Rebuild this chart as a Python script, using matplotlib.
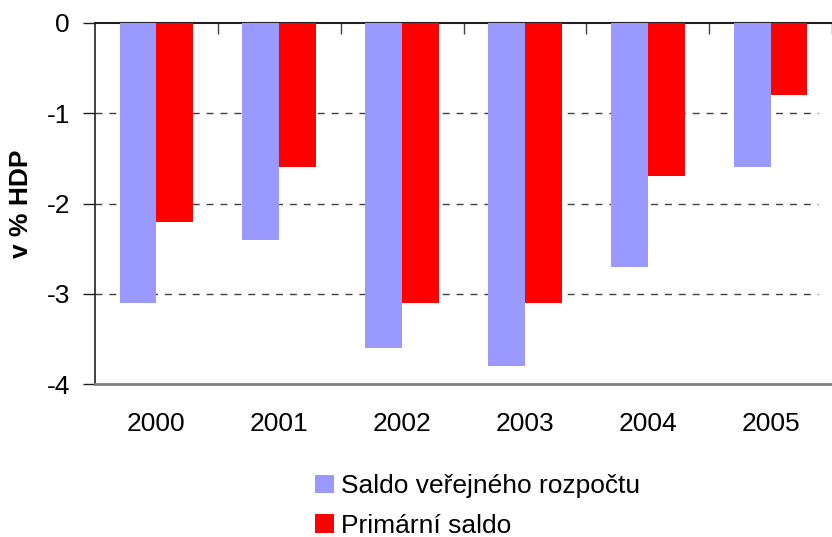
import matplotlib
matplotlib.use("Agg")
import matplotlib.pyplot as plt
from matplotlib.patches import Patch
import numpy as np

years = ["2000", "2001", "2002", "2003", "2004", "2005"]
saldo_verejneho = [-3.1, -2.4, -3.6, -3.8, -2.7, -1.6]
primarni_saldo = [-2.2, -1.6, -3.1, -3.1, -1.7, -0.8]
y_ticks = [0, -1, -2, -3, -4]
y_label = "v % HDP"
series_names = ["Saldo veřejného rozpočtu", "Primární saldo"]

plt.rcParams['font.family'] = ['Liberation Sans', 'DejaVu Sans']

W, H = 832, 537
fig = plt.figure(figsize=(W / 100, H / 100), dpi=100)
L, R, T, B = 95, 832, 23, 384
ax = fig.add_axes([L / W, 1 - B / H, (R - L) / W, (B - T) / H])

cat_w = 124.0
x = np.arange(len(years))
bw = 0.3
ax.bar(x - bw / 2, saldo_verejneho, bw, color="#9999FF", zorder=3)
ax.bar(x + bw / 2, primarni_saldo, bw, color="#FF0000", zorder=3)

xmax = -0.5 + (R - L) / cat_w
ax.set_xlim(-0.5, xmax)
ax.set_ylim(-4, 0)

grid_end = -0.5 + (825 - L) / cat_w
for yv in [-1, -2, -3]:
    ax.plot([-0.5, grid_end], [yv, yv], color="#404040", lw=1,
            dashes=(5, 5), zorder=1)

for s in ["right"]:
    ax.spines[s].set_visible(False)
ax.spines["top"].set_color("#202020")
ax.spines["top"].set_linewidth(1.5)
ax.spines["left"].set_color("#202020")
ax.spines["left"].set_linewidth(1.2)
ax.spines["bottom"].set_color("#808080")
ax.spines["bottom"].set_linewidth(2)

FS = 19
ax.set_yticks(y_ticks)
ax.set_yticklabels([str(v) for v in y_ticks], fontsize=FS)
ax.tick_params(axis="y", length=9, width=1, color="#202020", pad=9)

ax.set_xticks(x)
ax.set_xticklabels(years, fontsize=FS)
ax.tick_params(axis="x", which="major", length=0, pad=20)
ax.set_xticks(np.arange(len(years)) + 0.5, minor=True)
ax.tick_params(axis="x", which="minor", top=True, bottom=False,
               direction="in", length=8, width=1, color="#404040")

ax.set_ylabel(y_label, fontsize=FS, fontweight="bold")
ax.yaxis.set_label_coords((33 - L) / (R - L), 0.5)

handles = [Patch(facecolor="#9999FF", edgecolor="none"),
           Patch(facecolor="#FF0000", edgecolor="none")]
fig.legend(handles, series_names, loc="upper left",
           bbox_to_anchor=(315 / W, 1 - 474 / H), frameon=False,
           fontsize=FS, handlelength=0.72, handleheight=0.7,
           handletextpad=0.25, labelspacing=0.6, borderpad=0,
           borderaxespad=0)

fig.savefig("out.png", dpi=100)
